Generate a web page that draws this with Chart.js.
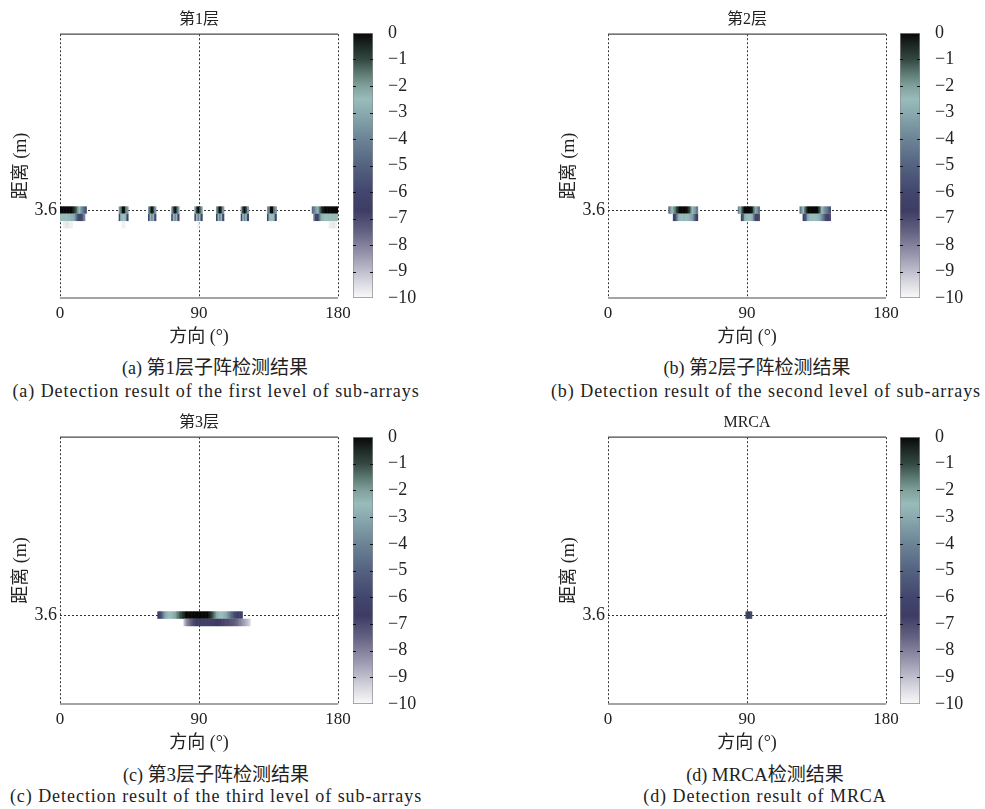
<!DOCTYPE html>
<html lang="zh">
<head>
<meta charset="utf-8">
<title>MRCA 检测结果</title>
<script src="https://cdn.jsdelivr.net/npm/chart.js@4.4.1/dist/chart.umd.min.js"></script>
<style>
  html, body { margin: 0; padding: 0; background: #fff; }
  #lienzo { position: relative; width: 985px; height: 809px; overflow: hidden;
            font-family: 'Liberation Serif', 'Noto Sans CJK SC', serif; color: #222; }
  canvas { position: absolute; }
  .pie { position: absolute; transform: translate(-50%, -50%); white-space: nowrap; font-size: 18px; line-height: 1; }
  .pie.en { letter-spacing: 0.95px; }
  .pie .zh { font-size: 19px; }
</style>
</head>
<body>
<div id="lienzo">
  <canvas id="mapa-a" width="360" height="350" style="left:0;top:0"></canvas>
  <canvas id="barra-a" width="80" height="320" style="left:340px;top:0"></canvas>
  <canvas id="mapa-b" width="360" height="350" style="left:548px;top:0"></canvas>
  <canvas id="barra-b" width="80" height="320" style="left:887px;top:0"></canvas>
  <canvas id="mapa-c" width="360" height="353" style="left:0;top:403px"></canvas>
  <canvas id="barra-c" width="80" height="320" style="left:340px;top:404px"></canvas>
  <canvas id="mapa-d" width="360" height="353" style="left:548px;top:403px"></canvas>
  <canvas id="barra-d" width="80" height="320" style="left:887px;top:404px"></canvas>

  <div class="pie" style="left:215px;top:367px">(a) <span class="zh">第1层子阵检测结果</span></div>
  <div class="pie en" style="left:216px;top:391px">(a) Detection result of the first level of sub-arrays</div>
  <div class="pie" style="left:757px;top:367px">(b) <span class="zh">第2层子阵检测结果</span></div>
  <div class="pie en" style="left:766px;top:391px">(b) Detection result of the second level of sub-arrays</div>
  <div class="pie" style="left:216px;top:774px">(c) <span class="zh">第3层子阵检测结果</span></div>
  <div class="pie en" style="left:216px;top:796px">(c) Detection result of the third level of sub-arrays</div>
  <div class="pie" style="left:765px;top:774px">(d) <span class="zh">MRCA检测结果</span></div>
  <div class="pie en" style="left:765px;top:796px">(d) Detection result of MRCA</div>
</div>

<script>
'use strict';
/* Detección por niveles de sub-arreglos — mapas dirección / distancia */

// ── Datos ────────────────────────────────────────────
const angulos = [0, 90, 180];          // ticks eje x (°)
const distTicks = [3.6];               // ticks eje y (m)
const nivelesBarra = [0, -1, -2, -3, -4, -5, -6, -7, -8, -9, -10];
const PASO_DIST = 0.05;                // alto de cada fila (m)

// cada tramo: [distancia (m), ángulo inicial (°), valores en dB por grado]
const capa1 = [
  [3.60, 0,   [0, 0, 0, 0, 0, 0, 0, 0, -0.4, -0.8, -1.3, -1.9, -2.5, -3.3, -4.2, -4.8, -5.5]],
  [3.60, 38,  [-3.5, -1.5, 0, 0, -1.5, -3.5]],
  [3.60, 57,  [-3.5, -1, 0, -1, -3.5]],
  [3.60, 72,  [-3.5, -1, 0, -1, -3.5]],
  [3.60, 87,  [-3.5, -1, 0, -1, -3.5]],
  [3.60, 101, [-3.5, -1, 0, -1, -3.5]],
  [3.60, 117, [-3.5, -0.8, 0, -1, -3.5]],
  [3.60, 134, [-3.5, -1.5, 0, 0, -1.5, -3.5]],
  [3.60, 163, [-4.8, -4.2, -3.5, -2.8, -2, -1.2, -0.6, -0.2, 0, 0, 0, 0, 0, 0, 0, 0, 0]],
  [3.55, 0,   [-2.5, -2.5, -2.5, -2.5, -2.5, -2.6, -2.7, -2.8, -2.9, -3.2, -4.5, -5.5, -6, -6.2, -5.5, -4]],
  [3.55, 38,  [-6, -2.7, -2.5, -2.5, -2.7, -6]],
  [3.55, 57,  [-6, -2.7, -3.8, -2.7, -6]],
  [3.55, 72,  [-6, -2.7, -3.8, -2.7, -6]],
  [3.55, 87,  [-6, -2.7, -3.8, -2.7, -6]],
  [3.55, 101, [-6, -2.7, -3.8, -2.7, -6]],
  [3.55, 117, [-6, -2.7, -3.8, -2.7, -6]],
  [3.55, 134, [-6, -2.7, -2.5, -2.5, -2.7, -6]],
  [3.55, 164, [-4, -6, -6.3, -5.5, -3.5, -2.8, -2.6, -2.5, -2.5, -2.5, -2.5, -2.5, -2.5, -2.5, -2.5, -2.5]],
  [3.50, 2,   [-9.8, -9.7, -9.6, -9.7, -9.8, -9.85]],
  [3.50, 40,  [-9.85, -9.85]],
  [3.50, 89,  [-9.8]],
  [3.50, 174, [-9.85, -9.75, -9.7, -9.7, -9.8]],
];

const capa2 = [
  [3.60, 39,  [-4.5, -3.5, -2.5, -2, -1.5, -1, -0.4, 0, 0, 0, 0, 0, -0.3, -0.8, -1.5, -2.5, -3, -3.5, -4.2]],
  [3.60, 84,  [-4, -3, -1.5, -0.5, 0, 0, 0, 0, 0, -0.5, -1.5, -3, -3.5, -4.5]],
  [3.60, 124, [-4.5, -3.5, -2.5, -1.5, -0.7, 0, 0, 0, 0, 0, 0, 0, -0.7, -1.5, -2.5, -3.2, -3.8, -4.2, -4.8, -5.5]],
  [3.55, 42,  [-6.5, -6, -4.5, -3, -2.6, -2.5, -2.4, -2.4, -2.5, -2.6, -2.8, -3, -3.3, -4, -5.5, -6.5]],
  [3.55, 86,  [-6.5, -5, -3, -2.6, -2.5, -2.5, -2.6, -3, -4.5, -6, -6.5, -7]],
  [3.55, 126, [-6.5, -6, -4.5, -3, -2.6, -2.5, -2.5, -2.5, -2.5, -2.6, -2.8, -3.2, -3.8, -4.5, -5.5, -6.2, -6.5, -7]],
];

const capa3 = [
  [3.60, 63, [-6.5, -6, -5.5, -4.5,
              -3.5, -3, -2.7, -2.5, -2.5, -2.4, -2.3, -2.1, -1.8,
              -1.5, -1.2, -1, -0.7, -0.4,
              0, 0, 0, 0, 0, 0, 0, 0, 0, 0, 0, 0, 0, 0, 0,
              -0.3, -0.6, -1, -1.4, -1.8, -2.2, -2.4, -2.5, -2.5, -2.6, -2.8, -3,
              -3.5, -4, -4.5, -5, -5.5, -6, -6.3, -6.5, -6.5, -6.8]],
  [3.55, 80, [-9, -8.5, -8, -7.8, -7.5, -7.2,
              -7, -6.8, -6.6, -6.5, -6.5, -6.5, -6.5, -6.4, -6.4, -6.4, -6.5, -6.5, -6.5, -6.5, -6.6, -6.6, -6.7, -6.7, -6.8, -6.8, -6.9,
              -7, -7, -7.1, -7.2, -7.3, -7.4, -7.5, -7.6, -7.8,
              -8, -8.2, -8.4, -8.6, -8.8, -9, -9.3]],
];

const mrca = [
  [3.60, 89, [-6, -1, -1, -6]],
];

// ── Paleta (0 dB negro → −10 dB blanco) ──────────────
const paleta = [
  [0,    [8, 8, 8]],
  [-0.5, [30, 42, 38]],
  [-1,   [52, 72, 66]],
  [-1.5, [90, 120, 112]],
  [-2,   [128, 160, 156]],
  [-2.5, [152, 188, 186]],
  [-3,   [138, 170, 175]],
  [-4,   [108, 132, 150]],
  [-5,   [84, 98, 128]],
  [-6,   [66, 70, 110]],
  [-6.7, [62, 60, 100]],
  [-7.5, [100, 98, 130]],
  [-8.5, [160, 158, 180]],
  [-9.3, [210, 210, 220]],
  [-10,  [250, 250, 250]],
];
const colorDe = v => {
  for (let i = 1; i < paleta.length; i++) {
    const [v0, c0] = paleta[i - 1], [v1, c1] = paleta[i];
    if (v >= v1) {
      const t = (v0 - v) / (v0 - v1);
      return `rgb(${c0.map((c, k) => Math.round(c + (c1[k] - c) * t)).join(',')})`;
    }
  }
  return 'rgb(250,250,250)';
};

const TXT = '#222';
const SERIF = "'Liberation Serif', 'Noto Sans CJK SC', serif";
Chart.defaults.font.family = SERIF;
Chart.defaults.color = TXT;

// ── Mapa de detección ────────────────────────────────
function mapa(id, titulo, tramos) {
  const celdas = {
    id: 'celdas',
    beforeDatasetsDraw(chart) {
      const { ctx, chartArea: ca, scales: { x, y } } = chart;
      ctx.save();
      ctx.beginPath(); ctx.rect(ca.left, ca.top, ca.width, ca.height); ctx.clip();
      tramos.forEach(([d, a0, vals]) => {
        const y0 = y.getPixelForValue(d + PASO_DIST / 2), y1 = y.getPixelForValue(d - PASO_DIST / 2);
        vals.forEach((v, i) => {
          const x0 = x.getPixelForValue(a0 + i), x1 = x.getPixelForValue(a0 + i + 1);
          ctx.fillStyle = colorDe(v);
          ctx.fillRect(x0, y0, x1 - x0 + 0.6, y1 - y0);
        });
      });
      ctx.restore();
    },
  };
  const marco = {
    id: 'marco',
    afterDraw(chart) {
      const { ctx, chartArea: ca } = chart;
      ctx.save();
      ctx.strokeStyle = '#4a4a4a'; ctx.lineWidth = 1.2;
      ctx.beginPath();
      ctx.moveTo(ca.left, ca.top); ctx.lineTo(ca.right, ca.top);
      ctx.moveTo(ca.left, ca.bottom); ctx.lineTo(ca.right, ca.bottom);
      ctx.stroke();
      ctx.restore();
    },
  };
  new Chart(document.getElementById(id), {
    type: 'scatter',
    data: { datasets: [{ data: [] }] },
    options: {
      responsive: false, animation: false, events: [],
      layout: { padding: { top: 0, right: 22, bottom: 0, left: 0 } },
      plugins: {
        legend: { display: false }, tooltip: { enabled: false },
        title: { display: true, text: titulo, fullSize: false, color: TXT,
                 font: { family: SERIF, size: 16, weight: 'normal', lineHeight: 1.2 }, padding: { top: 10, bottom: 5 } },
      },
      scales: {
        x: {
          type: 'linear', min: 0, max: 180, z: 1,
          afterBuildTicks: s => { s.ticks = angulos.map(value => ({ value })); },
          afterFit: s => { s.height = 52; },
          grid: { color: '#333', lineWidth: 1, drawTicks: false },
          border: { display: false, dash: [2, 2] },
          ticks: { font: { family: SERIF, size: 17 }, padding: 5, maxRotation: 0, autoSkip: false },
          title: { display: true, text: '方向 (°)', font: { family: SERIF, size: 18, lineHeight: 1.2 }, padding: { top: 0, bottom: 2 } },
        },
        y: {
          type: 'linear', min: 3.0, max: 4.8, z: 1,
          afterBuildTicks: s => { s.ticks = distTicks.map(value => ({ value })); },
          afterFit: s => { s.width = 60; },
          grid: { color: '#333', lineWidth: 1, drawTicks: false },
          border: { display: false, dash: [2, 2] },
          ticks: { font: { family: SERIF, size: 18 }, padding: 3, callback: v => v.toFixed(1) },
          title: { display: true, text: '距离 (m)', font: { family: SERIF, size: 18, lineHeight: 1.2 }, padding: { top: 10, bottom: 0 } },
        },
      },
    },
    plugins: [celdas, marco],
  });
}

// ── Barra de colores ─────────────────────────────────
const marcasBarra = {
  id: 'marcasBarra',
  afterDatasetsDraw(chart) {
    const { ctx, chartArea: ca, scales: { y } } = chart;
    ctx.save();
    ctx.strokeStyle = '#111'; ctx.lineWidth = 1;
    ctx.beginPath();
    nivelesBarra.slice(1, -1).forEach(v => {
      const py = Math.round(y.getPixelForValue(v)) + 0.5;
      ctx.moveTo(ca.left, py); ctx.lineTo(ca.left + 3, py);
      ctx.moveTo(ca.right - 3, py); ctx.lineTo(ca.right, py);
    });
    ctx.stroke();
    ctx.restore();
  },
};

function barra(id, padTop, padBottom) {
  new Chart(document.getElementById(id), {
    type: 'bar',
    data: {
      labels: [''],
      datasets: [{
        data: [[-10, 0]],
        backgroundColor: c => {
          const { chart } = c;
          if (!chart.chartArea) return '#888';
          const y = chart.scales.y;
          const g = chart.ctx.createLinearGradient(0, y.getPixelForValue(0), 0, y.getPixelForValue(-10));
          paleta.forEach(([v, rgb]) => g.addColorStop(v / -10, `rgb(${rgb.join(',')})`));
          return g;
        },
        borderColor: '#8c8c8c', borderWidth: 1, borderSkipped: false,
        barPercentage: 1, categoryPercentage: 1,
      }],
    },
    options: {
      responsive: false, animation: false, events: [],
      layout: { padding: { left: 13, top: padTop, right: 0, bottom: padBottom } },
      plugins: { legend: { display: false }, tooltip: { enabled: false } },
      scales: {
        x: { display: false },
        y: {
          position: 'right', min: -10, max: 0,
          afterBuildTicks: s => { s.ticks = nivelesBarra.map(value => ({ value })); },
          afterFit: s => { s.width = 47; },
          grid: { display: false }, border: { display: false },
          ticks: { font: { family: SERIF, size: 18 }, padding: 7, callback: v => v < 0 ? '−' + Math.abs(v) : String(v) },
        },
      },
    },
    plugins: [marcasBarra],
  });
}

mapa('mapa-a', '第1层', capa1);
mapa('mapa-b', '第2层', capa2);
mapa('mapa-c', '第3层', capa3);
mapa('mapa-d', 'MRCA', mrca);
barra('barra-a', 33, 22);
barra('barra-b', 33, 22);
barra('barra-c', 33, 20);
barra('barra-d', 33, 20);
</script>
</body>
</html>
